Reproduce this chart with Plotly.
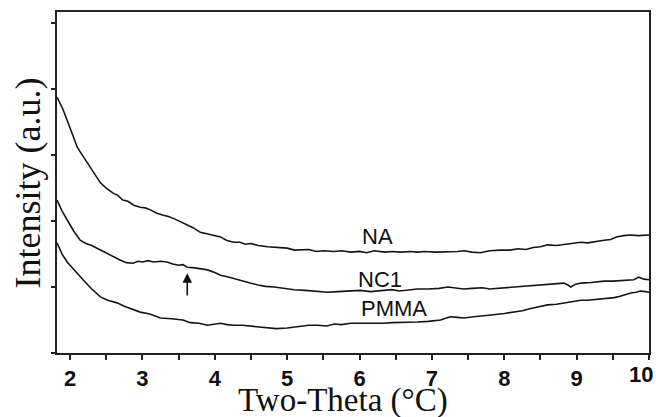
import plotly.graph_objects as go

# NA curve
na_x = [1.82, 1.90, 1.96, 2.03, 2.10, 2.17, 2.24, 2.33, 2.42, 2.50, 2.60, 2.66, 2.73, 2.80, 2.88, 2.97, 3.04, 3.11, 3.20, 3.29, 3.36, 3.45, 3.53, 3.62, 3.70, 3.80, 3.88, 3.95, 4.08, 4.16, 4.26, 4.35, 4.42, 4.50, 4.60, 4.73, 4.85, 5.00, 5.10, 5.18, 5.30, 5.40, 5.50, 5.65, 5.75, 5.88, 6.00, 6.10, 6.20, 6.35, 6.45, 6.57, 6.70, 6.80, 6.90, 7.05, 7.22, 7.35, 7.45, 7.55, 7.67, 7.80, 7.95, 8.08, 8.19, 8.30, 8.40, 8.50, 8.60, 8.72, 8.85, 8.95, 9.06, 9.15, 9.20, 9.30, 9.38, 9.47, 9.55, 9.65, 9.75, 9.85, 9.93, 10.0]
na_y = [3.88, 3.70, 3.53, 3.33, 3.12, 3.00, 2.88, 2.72, 2.58, 2.50, 2.42, 2.39, 2.32, 2.30, 2.24, 2.21, 2.20, 2.17, 2.12, 2.09, 2.07, 2.03, 1.99, 1.95, 1.90, 1.83, 1.81, 1.80, 1.76, 1.71, 1.68, 1.68, 1.65, 1.66, 1.63, 1.61, 1.60, 1.59, 1.56, 1.56, 1.57, 1.54, 1.55, 1.54, 1.55, 1.53, 1.54, 1.52, 1.55, 1.53, 1.54, 1.53, 1.54, 1.53, 1.54, 1.53, 1.53, 1.54, 1.55, 1.53, 1.52, 1.55, 1.56, 1.56, 1.58, 1.57, 1.60, 1.61, 1.64, 1.63, 1.65, 1.66, 1.68, 1.67, 1.68, 1.70, 1.71, 1.72, 1.76, 1.78, 1.79, 1.78, 1.79, 1.79]

# NC1 curve
nc1_x = [1.82, 1.89, 1.96, 2.05, 2.14, 2.22, 2.30, 2.42, 2.52, 2.60, 2.69, 2.78, 2.87, 2.94, 3.00, 3.08, 3.15, 3.25, 3.34, 3.42, 3.50, 3.56, 3.62, 3.72, 3.80, 3.90, 4.00, 4.08, 4.16, 4.25, 4.35, 4.49, 4.60, 4.70, 4.82, 4.95, 5.10, 5.25, 5.40, 5.56, 5.70, 5.85, 6.01, 6.15, 6.30, 6.45, 6.55, 6.66, 6.80, 6.95, 7.10, 7.22, 7.33, 7.44, 7.55, 7.70, 7.80, 7.91, 8.05, 8.15, 8.28, 8.37, 8.50, 8.60, 8.72, 8.82, 8.88, 8.92, 8.98, 9.06, 9.20, 9.38, 9.50, 9.60, 9.70, 9.79, 9.86, 9.93, 10.0]
nc1_y = [2.32, 2.15, 2.02, 1.85, 1.71, 1.66, 1.63, 1.56, 1.50, 1.46, 1.41, 1.37, 1.36, 1.39, 1.38, 1.40, 1.38, 1.39, 1.38, 1.35, 1.33, 1.34, 1.30, 1.29, 1.28, 1.26, 1.22, 1.18, 1.16, 1.13, 1.10, 1.06, 1.03, 1.01, 1.00, 0.98, 0.96, 0.95, 0.93, 0.92, 0.93, 0.94, 0.95, 0.93, 0.94, 0.96, 0.94, 0.95, 0.97, 0.97, 0.98, 1.00, 0.98, 0.97, 0.98, 0.99, 0.97, 0.98, 0.99, 1.00, 1.01, 1.02, 1.03, 1.04, 1.05, 1.06, 1.03, 1.00, 1.04, 1.06, 1.07, 1.09, 1.09, 1.10, 1.10, 1.11, 1.15, 1.12, 1.11]

# PMMA curve
pmma_x = [1.82, 1.89, 1.96, 2.07, 2.18, 2.30, 2.42, 2.52, 2.65, 2.75, 2.86, 2.97, 3.10, 3.25, 3.40, 3.56, 3.66, 3.78, 3.90, 4.00, 4.08, 4.17, 4.26, 4.38, 4.50, 4.62, 4.73, 4.85, 5.00, 5.10, 5.20, 5.30, 5.42, 5.55, 5.65, 5.75, 5.88, 6.00, 6.10, 6.22, 6.33, 6.45, 6.55, 6.68, 6.80, 6.95, 7.12, 7.20, 7.26, 7.35, 7.44, 7.58, 7.70, 7.85, 8.00, 8.13, 8.25, 8.35, 8.48, 8.60, 8.72, 8.85, 8.95, 9.06, 9.15, 9.25, 9.35, 9.43, 9.52, 9.60, 9.68, 9.75, 9.82, 9.88, 9.95, 10.0]
pmma_y = [1.67, 1.50, 1.38, 1.24, 1.11, 0.97, 0.85, 0.80, 0.76, 0.71, 0.67, 0.62, 0.59, 0.53, 0.52, 0.50, 0.46, 0.45, 0.42, 0.44, 0.45, 0.43, 0.42, 0.42, 0.41, 0.40, 0.39, 0.37, 0.38, 0.39, 0.40, 0.42, 0.42, 0.41, 0.44, 0.43, 0.45, 0.45, 0.44, 0.45, 0.45, 0.46, 0.46, 0.46, 0.47, 0.48, 0.50, 0.53, 0.55, 0.54, 0.53, 0.55, 0.56, 0.58, 0.60, 0.62, 0.64, 0.67, 0.70, 0.73, 0.74, 0.76, 0.78, 0.80, 0.80, 0.81, 0.82, 0.83, 0.84, 0.86, 0.89, 0.91, 0.92, 0.94, 0.93, 0.92]

labels = ["NA", "NC1", "PMMA"]
label_x = [6.25, 6.28, 6.47]
label_y = [1.77, 1.11, 0.67]

arrow_x = 3.62
arrow_tail_y = 0.85
arrow_head_y = 1.21

x_ticks = [2, 3, 4, 5, 6, 7, 8, 9, 10]
x_tick_text = ["2", "3", "4", "5", "6", "7", "8", "9", ""]
last_tick_label = "10"   # drawn right-aligned so it is not clipped at the page edge

line_color = "#151515"
tick_font = dict(family="Liberation Sans, Arial", size=22, color="#111", weight="bold")

fig = go.Figure()
for xs, ys in [(na_x, na_y), (nc1_x, nc1_y), (pmma_x, pmma_y)]:
    fig.add_trace(go.Scatter(x=xs, y=ys, mode="lines",
                             line=dict(color=line_color, width=1.6),
                             showlegend=False, hoverinfo="skip"))

for t, lx, ly in zip(labels, label_x, label_y):
    fig.add_annotation(x=lx, y=ly, xref="x", yref="y", text=t, showarrow=False,
                       xanchor="center", yanchor="middle",
                       font=dict(family="Liberation Sans, Arial", size=22, color="#111"))

fig.add_annotation(x=arrow_x, y=arrow_head_y, ax=arrow_x, ay=arrow_tail_y,
                   xref="x", yref="y", axref="x", ayref="y", text="",
                   showarrow=True, arrowhead=2, arrowsize=1.2, arrowwidth=1.6,
                   arrowcolor="#111")

fig.add_annotation(x=x_ticks[-1], y=-0.0645, xref="x", yref="paper",
                   xanchor="right", yanchor="middle", xshift=6,
                   text=last_tick_label, showarrow=False, font=tick_font)

fig.add_annotation(x=0.483, y=-0.14, xref="paper", yref="paper",
                   xanchor="center", yanchor="middle",
                   text="Two-Theta (°C)", showarrow=False,
                   font=dict(family="Liberation Serif, Times New Roman", size=33, color="#111"))
fig.add_annotation(x=-0.049, y=0.50, xref="paper", yref="paper",
                   xanchor="center", yanchor="middle",
                   text="Intensity (a.u.)", showarrow=False, textangle=-90,
                   font=dict(family="Liberation Serif, Times New Roman", size=36, color="#111"))

fig.update_xaxes(range=[1.82, 10.0], tickvals=x_ticks, ticktext=x_tick_text,
                 ticks="outside", ticklen=5, automargin=False,
                 tickwidth=1.5, tickcolor="#222",
                 minor=dict(dtick=0.5, ticks="outside", ticklen=5, tickwidth=1.5, tickcolor="#222"),
                 showline=True, linewidth=2, linecolor="#222", mirror=True,
                 showgrid=False, zeroline=False, tickfont=tick_font)
fig.update_yaxes(range=[0, 5.17], dtick=1, ticks="outside", ticklen=4, tickwidth=1.5,
                 tickcolor="#222", showticklabels=False, automargin=False,
                 showline=True, linewidth=2, linecolor="#222", mirror=True,
                 showgrid=False, zeroline=False)

fig.update_layout(width=656, height=417, margin=dict(l=57, r=7, t=12, b=64),
                  plot_bgcolor="white", paper_bgcolor="white")

fig.write_html("out.html", config={"displayModeBar": False},
               post_script="document.body.style.margin='0';document.body.style.overflow='hidden';")
